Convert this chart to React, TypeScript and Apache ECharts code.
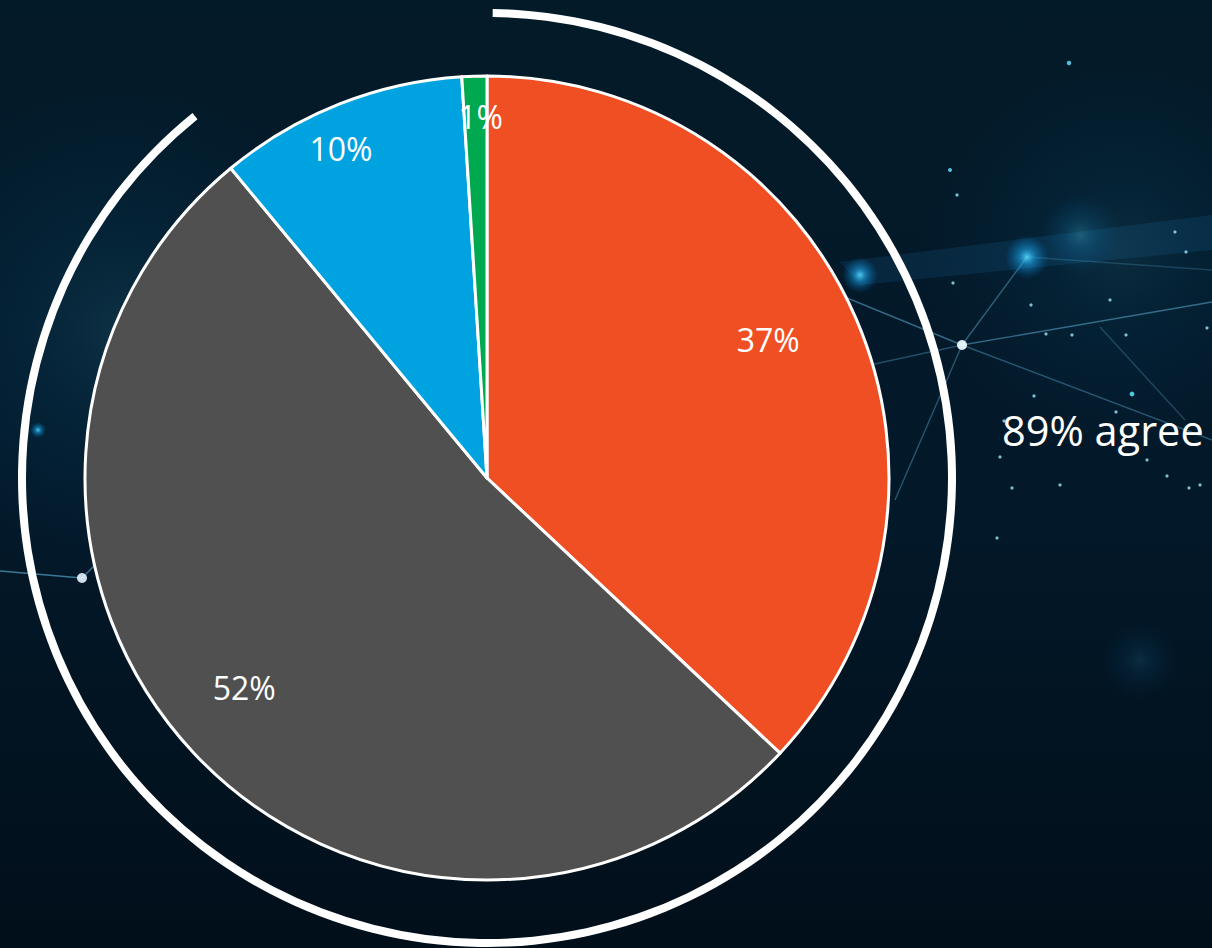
import React, { useEffect, useRef } from "react";
import * as echarts from "echarts";

// ---- data ----
const categories = ["Strongly agree", "Agree", "Disagree", "Strongly disagree"];
const shares = [37, 52, 10, 1];
const sliceColors = ["#F04E23", "#505050", "#00A3E0", "#00A84F"];
const agreeShare = 89; // strongly agree + agree
const agreeLabel = "89% agree";

const FONT = "'Open Sans', 'DejaVu Sans', sans-serif";

export default function App() {
  const ref = useRef<HTMLDivElement>(null);

  useEffect(() => {
    if (!ref.current) return;
    const chart = echarts.init(ref.current, null, { renderer: "svg" });

    const labelOffsets: [number, number][] = [
      [94, -57],
      [-94, 70],
      [-71, -140],
      [0, -158],
    ];

    const pieData = categories.map((name, i) => ({
      name,
      value: shares[i],
      itemStyle: { color: sliceColors[i] },
      label: { offset: labelOffsets[i] },
    }));

    const ringData = [
      { name: "Agree total", value: agreeShare, itemStyle: { color: "#FFFFFF" } },
      { name: "Rest", value: 100 - agreeShare, itemStyle: { color: "rgba(0,0,0,0)" } },
    ];

    const glow = (cx: number, cy: number, r: number, a: number) => ({
      type: "circle",
      silent: true,
      z: 0,
      shape: { cx, cy, r },
      style: {
        fill: new echarts.graphic.RadialGradient(0.5, 0.5, 0.5, [
          { offset: 0, color: `rgba(90,220,255,${a})` },
          { offset: 0.35, color: `rgba(30,170,240,${a * 0.6})` },
          { offset: 1, color: "rgba(0,120,200,0)" },
        ]),
      },
    });
    const dot = (cx: number, cy: number, r = 1.6, c = "rgba(150,220,240,0.85)") => ({
      type: "circle",
      silent: true,
      z: 0,
      shape: { cx, cy, r },
      style: { fill: c },
    });
    const ln = (x1: number, y1: number, x2: number, y2: number, a = 0.45, w = 1.4) => ({
      type: "line",
      silent: true,
      z: 0,
      shape: { x1, y1, x2, y2 },
      style: { stroke: `rgba(110,200,240,${a})`, lineWidth: w },
    });

    const decorations: any[] = [
      // soft bluish haze
      glow(120, 330, 260, 0.12),
      glow(1120, 250, 200, 0.1),
      glow(1140, 660, 40, 0.12),
      // band glow
      {
        type: "polygon",
        silent: true,
        z: 0,
        shape: { points: [[840, 262], [1212, 215], [1212, 250], [860, 285]] },
        style: { fill: "rgba(40,150,220,0.12)" },
      },
      // lines right
      ln(962, 345, 808, 282),
      ln(962, 345, 1212, 302),
      ln(962, 345, 1212, 440, 0.35),
      ln(962, 345, 895, 500, 0.35),
      ln(962, 345, 1027, 257, 0.4),
      ln(962, 345, 810, 378, 0.3),
      ln(1100, 327, 1185, 420, 0.25),
      ln(1027, 257, 1212, 270, 0.2),
      // lines left
      ln(0, 571, 82, 578, 0.55, 1.6),
      ln(82, 578, 98, 562, 0.5),
      // glows
      glow(860, 275, 18, 0.9),
      glow(1027, 257, 22, 0.9),
      glow(38, 430, 8, 0.9),
      glow(1080, 235, 40, 0.25),
      // nodes
      dot(962, 345, 5, "rgba(235,250,255,0.95)"),
      dot(82, 578, 5, "rgba(230,245,255,0.9)"),
      // small stars
      dot(953, 283), dot(1031, 305), dot(1046, 334), dot(1072, 335), dot(1126, 335),
      dot(1132, 394, 2.4, "rgba(90,220,240,0.9)"), dot(1116, 412), dot(1034, 396),
      dot(1004, 421), dot(1000, 457), dot(1069, 63, 2.2, "rgba(90,210,240,0.9)"),
      dot(950, 170, 2, "rgba(90,210,240,0.9)"), dot(957, 195), dot(1200, 485), dot(1167, 476),
      dot(1012, 488), dot(1175, 232), dot(1207, 328), dot(1147, 460), dot(1189, 488),
      dot(997, 538), dot(1110, 300), dot(1186, 252), dot(1060, 485),
    ];

    chart.setOption({
      animation: false,
      backgroundColor: new echarts.graphic.LinearGradient(0, 0, 0, 1, [
        { offset: 0, color: "#031a28" },
        { offset: 0.5, color: "#03192a" },
        { offset: 1, color: "#010f1a" },
      ]),
      graphic: decorations,
      series: [
        {
          type: "pie",
          name: "Agree ring",
          silent: true,
          z: 2,
          center: [487, 478],
          radius: [461, 469],
          startAngle: 89.3,
          clockwise: true,
          label: { show: false },
          labelLine: { show: false },
          data: ringData,
        },
        {
          type: "pie",
          name: "Responses",
          z: 3,
          center: [487, 478],
          radius: [0, 402],
          startAngle: 90,
          clockwise: true,
          itemStyle: { borderColor: "#FFFFFF", borderWidth: 3 },
          label: {
            show: true,
            position: "inside",
            formatter: "{c}%",
            color: "#FFFFFF",
            fontFamily: FONT,
            fontSize: 32,
            textBorderWidth: 0,
          },
          labelLine: { show: false },
          emphasis: { disabled: true },
          data: pieData,
        },
      ],
      title: {
        text: agreeLabel,
        left: 997,
        top: 404,
        textStyle: {
          color: "#FFFFFF",
          fontFamily: FONT,
          fontSize: 41.5,
          fontWeight: "normal",
        },
      },
    });

    return () => chart.dispose();
  }, []);

  return (
    <div
      ref={ref}
      style={{ position: "fixed", left: 0, top: 0, width: 1212, height: 948 }}
    />
  );
}
